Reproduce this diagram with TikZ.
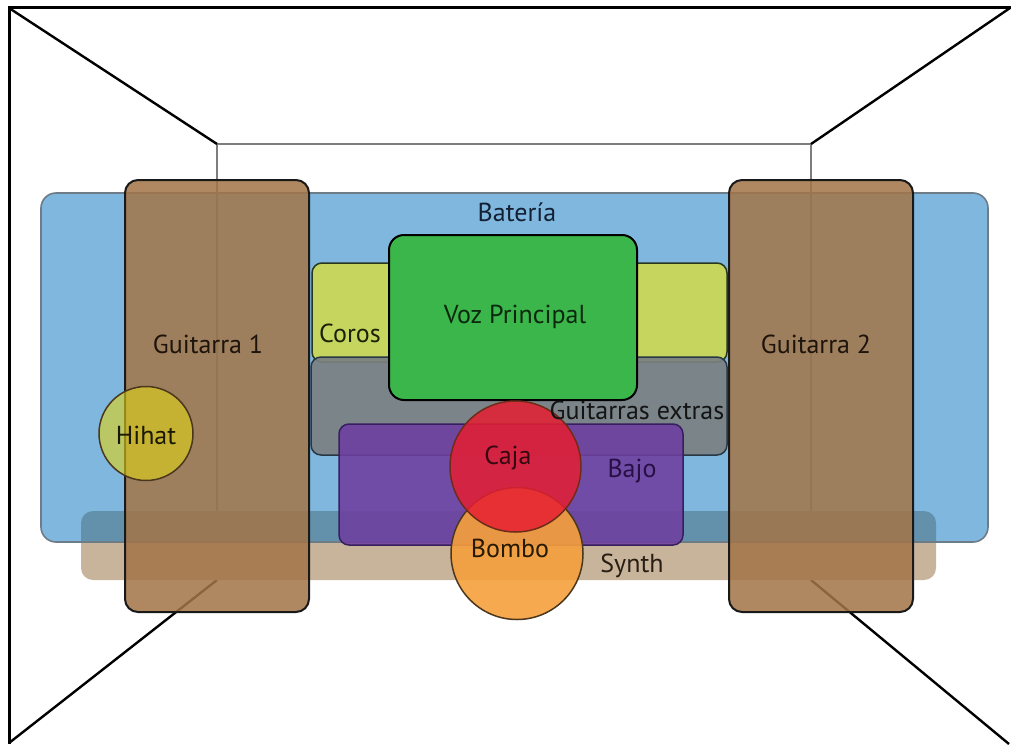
\documentclass[tikz,border=0pt]{standalone}
\usepackage{fontspec}
\setmainfont{PT Sans}
\definecolor{bluefill}{RGB}{0,112,190}
\definecolor{blueline}{RGB}{110,124,136}
\definecolor{guitfill}{RGB}{163,117,72}
\definecolor{synthfill}{RGB}{200,180,155}
\definecolor{corosfill}{RGB}{200,214,90}
\definecolor{corosline}{RGB}{40,55,30}
\definecolor{vozfill}{RGB}{59,182,74}
\definecolor{gextfill}{RGB}{122,128,130}
\definecolor{gextline}{RGB}{40,55,70}
\definecolor{bajofill}{RGB}{110,62,160}
\definecolor{bajoline}{RGB}{55,30,95}
\definecolor{cajafill}{RGB}{230,30,50}
\definecolor{bombofill}{RGB}{246,160,60}
\definecolor{hihatfill}{RGB}{222,210,26}
\definecolor{circline}{RGB}{75,55,30}
\definecolor{wallgrey}{RGB}{125,125,125}
\tikzset{
  lbl/.style={font=\fontsize{26}{30}\selectfont, anchor=base, inner sep=0pt},
  frameline/.style={black, line width=3pt},
  diag/.style={black, line width=2.4pt},
  wall/.style={wallgrey, line width=1.6pt},
}
\begin{document}
\begin{tikzpicture}[x=1pt,y=-1pt]
\useasboundingbox (0,0) rectangle (1011,744);
\fill[white] (0,0) rectangle (1011,744);
% room
\draw[frameline] (9,744) -- (9,7) -- (1011,7);
\coordinate (tl) at (9,8);
\coordinate (tr) at (1010,8);
\coordinate (bl) at (9,743);
\coordinate (br) at (1009,744);
\coordinate (wtl) at (217,144);
\coordinate (wtr) at (811,144);
\coordinate (wbl) at (217,580);
\coordinate (wbr) at (811,580);
\draw[wall] (wbl) -- (wtl) -- (wtr) -- (wbr);
\draw[diag] (tl) -- (wtl);
\draw[diag] (tr) -- (wtr);
\draw[diag] (bl) -- (wbl);
\draw[diag] (br) -- (wbr);
% synth
\fill[synthfill, rounded corners=12pt] (81,511) rectangle (936,580);
% bateria
\draw[blueline, line width=1.6pt, fill=bluefill, fill opacity=0.5, rounded corners=15pt] (41,193) rectangle (988,542);
% guitars
\draw[black!90, line width=2pt, fill=guitfill, fill opacity=0.86, rounded corners=13pt] (125,180) rectangle (309,612);
\draw[black!90, line width=2pt, fill=guitfill, fill opacity=0.86, rounded corners=13pt] (729,180) rectangle (913,612);
% hihat
\draw[circline, line width=1.5pt, fill=hihatfill, fill opacity=0.62] (146,433.5) circle[radius=47];
% coros
\draw[corosline, line width=1.5pt, fill=corosfill, fill opacity=0.97, rounded corners=10pt] (312,263) rectangle (727,362);
% guitarras extras
\draw[gextline, line width=1.5pt, fill=gextfill, fill opacity=0.92, rounded corners=10pt] (311,357) rectangle (727,455);
% voz principal
\draw[black, line width=2pt, fill=vozfill, rounded corners=15pt] (389,235) rectangle (637,400);
% bajo
\draw[bajoline, line width=1.5pt, fill=bajofill, fill opacity=0.88, rounded corners=10pt] (339,424) rectangle (683,545);
% bombo
\draw[circline, line width=1.5pt, fill=bombofill, fill opacity=0.9] (517,553.5) circle[radius=66];
% caja
\draw[circline!80!red, line width=1.5pt, fill=cajafill, fill opacity=0.85] (515.5,466.5) circle[radius=65.5];
% labels
\node[lbl, text={rgb,255:red,20;green,32;blue,52}] (tbat) at (517,221) {Batería};
\node[lbl, text={rgb,255:red,30;green,20;blue,12}] (tg1) at (208,353) {Guitarra 1};
\node[lbl, text={rgb,255:red,30;green,20;blue,12}] (tg2) at (816,353) {Guitarra 2};
\node[lbl, text={rgb,255:red,28;green,32;blue,8}] (tcor) at (350,342) {Coros};
\node[lbl, text={rgb,255:red,12;green,40;blue,14}] (tvoz) at (515,323) {Voz Principal};
\node[lbl, text={rgb,255:red,20;green,20;blue,20}] (tgex) at (637,419) {Guitarras extras};
\node[lbl, text={rgb,255:red,55;green,8;blue,15}] (tcaja) at (508,464) {Caja};
\node[lbl, text={rgb,255:red,40;green,15;blue,70}] (tbajo) at (632,477) {Bajo};
\node[lbl, text={rgb,255:red,40;green,25;blue,5}] (tbombo) at (510,557) {Bombo};
\node[lbl, text={rgb,255:red,40;green,30;blue,20}] (tsynth) at (632,572) {Synth};
\node[lbl, text={rgb,255:red,25;green,25;blue,5}] (thihat) at (146,444) {Hihat};
\end{tikzpicture}
\end{document}
